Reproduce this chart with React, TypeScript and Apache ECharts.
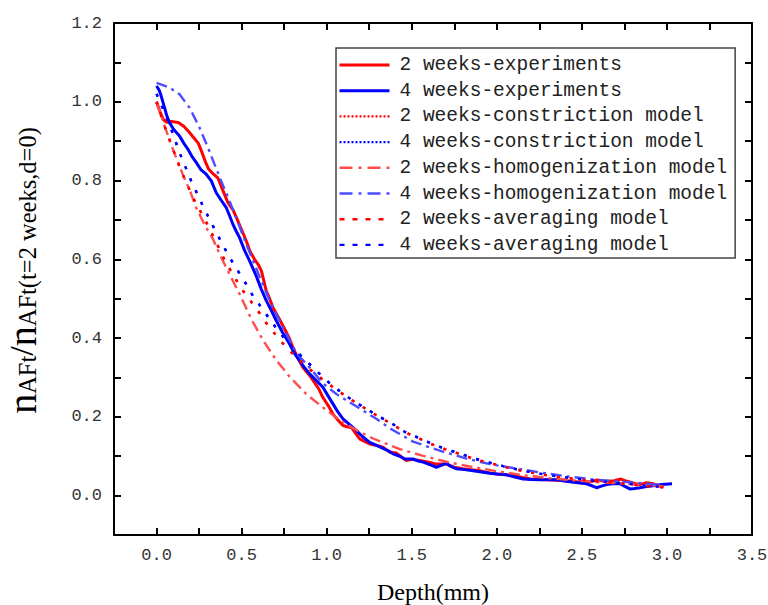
import React, { useEffect, useRef } from 'react';
import * as echarts from 'echarts';

// Axis ranges and tick values
const X_MIN = -0.25;
const X_MAX = 3.5;
const Y_MIN = -0.1;
const Y_MAX = 1.2;
const X_MAJOR = [0, 0.5, 1, 1.5, 2, 2.5, 3, 3.5];
const Y_MAJOR = [0, 0.2, 0.4, 0.6, 0.8, 1.0, 1.2];

const NAMES = [
  '2 weeks-experiments',
  '4 weeks-experiments',
  '2 weeks-constriction model',
  '4 weeks-constriction model',
  '2 weeks-homogenization model',
  '4 weeks-homogenization model',
  '2 weeks-averaging model',
  '4 weeks-averaging model',
];

// [depth (mm), normalized n_AFt]
const RED_EXP = [
  [0, 1.0], [0.02, 0.975], [0.04, 0.955], [0.06, 0.948], [0.09, 0.95], [0.13, 0.947], [0.16, 0.938],
  [0.19, 0.924], [0.22, 0.908], [0.245, 0.895], [0.265, 0.874], [0.285, 0.85], [0.305, 0.83],
  [0.33, 0.818], [0.36, 0.807], [0.39, 0.775], [0.42, 0.744], [0.45, 0.725], [0.47, 0.706],
  [0.5, 0.675], [0.527, 0.647], [0.55, 0.62], [0.576, 0.6], [0.6, 0.585], [0.616, 0.571],
  [0.645, 0.52], [0.665, 0.5], [0.684, 0.478], [0.72, 0.45], [0.753, 0.423], [0.78, 0.4],
  [0.802, 0.376], [0.83, 0.35], [0.861, 0.325], [0.9, 0.305], [0.929, 0.287], [0.955, 0.27],
  [0.978, 0.249], [1.01, 0.228], [1.037, 0.207], [1.07, 0.19], [1.096, 0.178], [1.12, 0.175],
  [1.145, 0.173], [1.17, 0.158], [1.194, 0.144], [1.22, 0.138], [1.253, 0.131], [1.29, 0.128],
  [1.331, 0.123], [1.371, 0.11], [1.41, 0.108], [1.44, 0.098], [1.469, 0.089], [1.5, 0.092],
  [1.547, 0.089], [1.6, 0.085], [1.645, 0.08], [1.704, 0.08], [1.75, 0.072], [1.8, 0.068],
  [1.85, 0.066], [1.9, 0.063], [1.95, 0.058], [2.0, 0.055], [2.05, 0.053], [2.1, 0.051],
  [2.15, 0.046], [2.2, 0.042], [2.25, 0.041], [2.3, 0.04], [2.35, 0.039], [2.4, 0.038],
  [2.45, 0.036], [2.5, 0.034], [2.55, 0.035], [2.59, 0.04], [2.64, 0.036], [2.69, 0.038],
  [2.73, 0.042], [2.76, 0.037], [2.8, 0.032], [2.84, 0.028], [2.88, 0.033], [2.92, 0.03],
  [2.95, 0.025], [2.98, 0.023],
];

const BLUE_EXP = [
  [0, 1.04], [0.015, 1.03], [0.027, 1.015], [0.047, 0.985], [0.06, 0.965], [0.076, 0.947],
  [0.1, 0.93], [0.135, 0.913], [0.16, 0.895], [0.184, 0.88], [0.21, 0.86], [0.233, 0.846],
  [0.26, 0.828], [0.292, 0.816], [0.322, 0.799], [0.351, 0.769], [0.38, 0.75], [0.41, 0.731],
  [0.43, 0.71], [0.449, 0.689], [0.47, 0.67], [0.488, 0.655], [0.518, 0.622], [0.547, 0.596],
  [0.586, 0.558], [0.615, 0.525], [0.645, 0.495], [0.675, 0.47], [0.704, 0.444], [0.74, 0.415],
  [0.782, 0.385], [0.81, 0.362], [0.841, 0.342], [0.87, 0.325], [0.9, 0.309], [0.94, 0.292],
  [0.978, 0.275], [1.01, 0.252], [1.037, 0.233], [1.065, 0.213], [1.096, 0.195], [1.135, 0.18],
  [1.175, 0.165], [1.21, 0.15], [1.253, 0.135], [1.29, 0.128], [1.331, 0.12], [1.371, 0.112],
  [1.39, 0.106], [1.43, 0.1], [1.459, 0.093], [1.508, 0.093], [1.537, 0.088], [1.567, 0.085],
  [1.61, 0.078], [1.645, 0.072], [1.68, 0.078], [1.704, 0.082], [1.73, 0.074], [1.763, 0.068],
  [1.81, 0.066], [1.861, 0.063], [1.91, 0.06], [1.959, 0.057], [2.0, 0.055], [2.057, 0.053],
  [2.1, 0.048], [2.155, 0.042], [2.2, 0.041], [2.253, 0.04], [2.3, 0.04], [2.351, 0.04],
  [2.4, 0.037], [2.449, 0.034], [2.49, 0.032], [2.527, 0.03], [2.56, 0.025], [2.586, 0.02],
  [2.615, 0.024], [2.645, 0.028], [2.68, 0.03], [2.724, 0.03], [2.75, 0.024], [2.782, 0.017],
  [2.81, 0.018], [2.841, 0.02], [2.88, 0.023], [2.92, 0.025], [2.97, 0.028], [3.03, 0.03],
];

const RED_AVERAGING = [
  [0, 1.0], [0.057, 0.926], [0.086, 0.892], [0.145, 0.824], [0.214, 0.757], [0.282, 0.703],
  [0.341, 0.652], [0.4, 0.598], [0.459, 0.554], [0.508, 0.52], [0.557, 0.492], [0.606, 0.463],
  [0.645, 0.438], [0.704, 0.406], [0.763, 0.376], [0.85, 0.34], [0.93, 0.31], [1.0, 0.287],
  [1.1, 0.256], [1.2, 0.228], [1.312, 0.199], [1.39, 0.18], [1.459, 0.161], [1.537, 0.146],
  [1.616, 0.131], [1.694, 0.118], [1.782, 0.106], [1.861, 0.094], [1.939, 0.085], [2.037, 0.074],
  [2.116, 0.066], [2.194, 0.059], [2.292, 0.052], [2.371, 0.047], [2.469, 0.042], [2.547, 0.038],
  [2.645, 0.034], [2.724, 0.031], [2.8, 0.028], [2.88, 0.024], [2.98, 0.021],
];

const BLUE_AVERAGING = [
  [0, 1.02], [0.076, 0.943], [0.135, 0.871], [0.204, 0.799], [0.272, 0.736], [0.351, 0.668],
  [0.429, 0.605], [0.478, 0.571], [0.527, 0.537], [0.567, 0.507], [0.616, 0.478], [0.665, 0.448],
  [0.714, 0.419], [0.8, 0.375], [0.9, 0.334], [0.959, 0.309], [1.018, 0.285], [1.086, 0.262],
  [1.155, 0.241], [1.233, 0.22], [1.312, 0.2], [1.39, 0.181], [1.459, 0.162], [1.537, 0.147],
  [1.616, 0.132], [1.694, 0.119], [1.782, 0.107], [1.861, 0.095], [1.939, 0.086], [2.037, 0.075],
  [2.116, 0.067], [2.194, 0.06], [2.292, 0.053], [2.371, 0.048], [2.469, 0.043], [2.547, 0.039],
  [2.645, 0.035], [2.724, 0.032], [2.8, 0.029], [2.88, 0.025], [2.98, 0.022],
];

// The constriction curves lie on the averaging curves in the figure
const RED_CONSTRICTION = RED_AVERAGING;
const BLUE_CONSTRICTION = BLUE_AVERAGING;

const RED_HOMOGENIZATION = [
  [0, 1.0], [0.05, 0.935], [0.1, 0.875], [0.15, 0.82], [0.2, 0.77], [0.233, 0.731], [0.28, 0.69],
  [0.331, 0.652], [0.371, 0.613], [0.429, 0.562], [0.488, 0.512], [0.557, 0.448], [0.625, 0.395],
  [0.704, 0.344], [0.782, 0.302], [0.88, 0.258], [0.978, 0.224], [1.076, 0.192], [1.175, 0.166],
  [1.273, 0.145], [1.361, 0.13], [1.429, 0.118], [1.567, 0.101], [1.704, 0.086], [1.841, 0.074],
  [2.0, 0.062], [2.155, 0.052], [2.292, 0.045], [2.449, 0.039], [2.606, 0.034], [2.76, 0.03],
  [2.9, 0.026], [3.0, 0.023],
];

const BLUE_HOMOGENIZATION = [
  [0, 1.048], [0.076, 1.036], [0.135, 1.019], [0.194, 0.985], [0.253, 0.934], [0.302, 0.884],
  [0.341, 0.841], [0.38, 0.799], [0.429, 0.748], [0.48, 0.692], [0.53, 0.636], [0.6, 0.562],
  [0.67, 0.49], [0.743, 0.427], [0.822, 0.362], [0.9, 0.325], [0.978, 0.285], [1.057, 0.258],
  [1.135, 0.237], [1.214, 0.216], [1.292, 0.195], [1.371, 0.171], [1.508, 0.137], [1.665, 0.114],
  [1.822, 0.094], [1.959, 0.08], [2.096, 0.07], [2.253, 0.059], [2.41, 0.049], [2.567, 0.041],
  [2.724, 0.036], [2.86, 0.031], [2.95, 0.027],
];

const SERIES_DATA = [RED_EXP, BLUE_EXP, RED_CONSTRICTION, BLUE_CONSTRICTION, RED_HOMOGENIZATION, BLUE_HOMOGENIZATION, RED_AVERAGING, BLUE_AVERAGING];

// line style in the plot, and in the legend sample
const STYLES: any[] = [
  { color: '#ff0000', width: 3, type: 'solid', legendType: 'solid' },
  { color: '#0000ff', width: 3, type: 'solid', legendType: 'solid' },
  { color: '#ff0000', width: 2.4, type: [3, 10], legendType: [2, 2] },
  { color: '#0000ff', width: 2.4, type: [3, 10], legendType: [2, 2] },
  { color: '#ff4d4d', width: 2.4, type: [11, 5, 3, 5], legendType: [13, 6, 3, 6] },
  { color: '#4d4dff', width: 2.4, type: [11, 5, 3, 5], legendType: [13, 6, 3, 6] },
  { color: '#ff0000', width: 2.4, type: [3, 10], legendType: [5, 8] },
  { color: '#0000ff', width: 2.4, type: [3, 10], legendType: [5, 8] },
];

const MONO = 'Liberation Mono';
const SERIF = 'Liberation Serif';

export default function App() {
  const ref = useRef<HTMLDivElement>(null);
  useEffect(() => {
    const chart = echarts.init(ref.current!, null, { renderer: 'svg' });
    const lineBlack = { color: '#000', width: 2 };
    const tick = { show: true, inside: true, length: 7, lineStyle: { color: '#000', width: 2 } };
    const commonX = { type: 'value', min: X_MIN, max: X_MAX, interval: 0.25, splitLine: { show: false }, axisTick: tick };
    const commonY = { type: 'value', min: Y_MIN, max: Y_MAX, interval: 0.1, splitLine: { show: false }, axisTick: tick };
    const option: any = {
      animation: false,
      backgroundColor: '#fff',
      grid: { left: 114, right: 16, top: 23, bottom: 70, outerBoundsMode: 'none', containLabel: false },
      legend: {
        orient: 'vertical',
        left: 336,
        top: 48,
        padding: [7, 8, 3, 2],
        itemGap: 5.7,
        itemWidth: 50,
        itemHeight: 14,
        borderColor: '#444',
        borderWidth: 1.5,
        backgroundColor: '#fff',
        selectedMode: false,
        itemStyle: { opacity: 0 },
        textStyle: { fontFamily: MONO, fontSize: 19.5, color: '#222', lineHeight: 20, padding: [0, 0, 0, 5] },
        data: NAMES.map((name, i) => ({
          name,
          lineStyle: { color: STYLES[i].color, width: STYLES[i].width, type: STYLES[i].legendType },
        })),
      },
      xAxis: [
        {
          ...commonX,
          position: 'bottom',
          axisLine: { show: true, onZero: false, lineStyle: lineBlack },
          axisLabel: {
            show: true, customValues: X_MAJOR, margin: 12, fontFamily: MONO, fontSize: 17, color: '#333',
            formatter: (v: number) => v.toFixed(1),
          },
          name: 'Depth(mm)',
          nameLocation: 'middle',
          nameGap: 45,
          nameMoveOverlap: false,
          nameTextStyle: { fontFamily: SERIF, fontSize: 24, color: '#000' },
        },
        {
          ...commonX,
          position: 'top',
          axisLine: { show: true, onZero: false, lineStyle: lineBlack },
          axisLabel: { show: false },
        },
      ],
      yAxis: [
        {
          ...commonY,
          position: 'left',
          axisLine: { show: true, onZero: false, lineStyle: lineBlack },
          axisLabel: {
            show: true, customValues: Y_MAJOR, margin: 12, fontFamily: MONO, fontSize: 17, color: '#333',
            formatter: (v: number) => v.toFixed(1),
          },
          name: '{n|n}{s|AFt}{sl|/}{n|n}{s|AFt(t=2 weeks,d=0)}',
          nameLocation: 'middle',
          nameRotate: 90,
          nameGap: 74,
          nameMoveOverlap: false,
          nameTextStyle: {
            fontFamily: SERIF,
            color: '#000',
            padding: [0, 0, 0, 17],
            rich: {
              n: { fontFamily: SERIF, fontSize: 40, lineHeight: 36, verticalAlign: 'middle', color: '#000' },
              s: { fontFamily: SERIF, fontSize: 24.5, lineHeight: 6, verticalAlign: 'bottom', color: '#000' },
              sl: { fontFamily: SERIF, fontSize: 34, lineHeight: 28, verticalAlign: 'top', color: '#000' },
            },
          },
        },
        {
          ...commonY,
          position: 'right',
          axisLine: { show: true, onZero: false, lineStyle: lineBlack },
          axisLabel: { show: false },
        },
      ],
      series: NAMES.map((name, i) => ({
        name,
        type: 'line',
        xAxisIndex: 0,
        yAxisIndex: 0,
        data: SERIES_DATA[i],
        symbol: 'none',
        showSymbol: false,
        smooth: false,
        color: STYLES[i].color,
        lineStyle: { color: STYLES[i].color, width: STYLES[i].width, type: STYLES[i].type },
        z: i < 2 ? 2 : 3,
      })),
    };
    chart.setOption(option);
    return () => chart.dispose();
  }, []);
  return (
    <div
      ref={ref}
      style={{ position: 'absolute', left: 0, top: 0, width: 768, height: 605, background: '#fff' }}
    />
  );
}
